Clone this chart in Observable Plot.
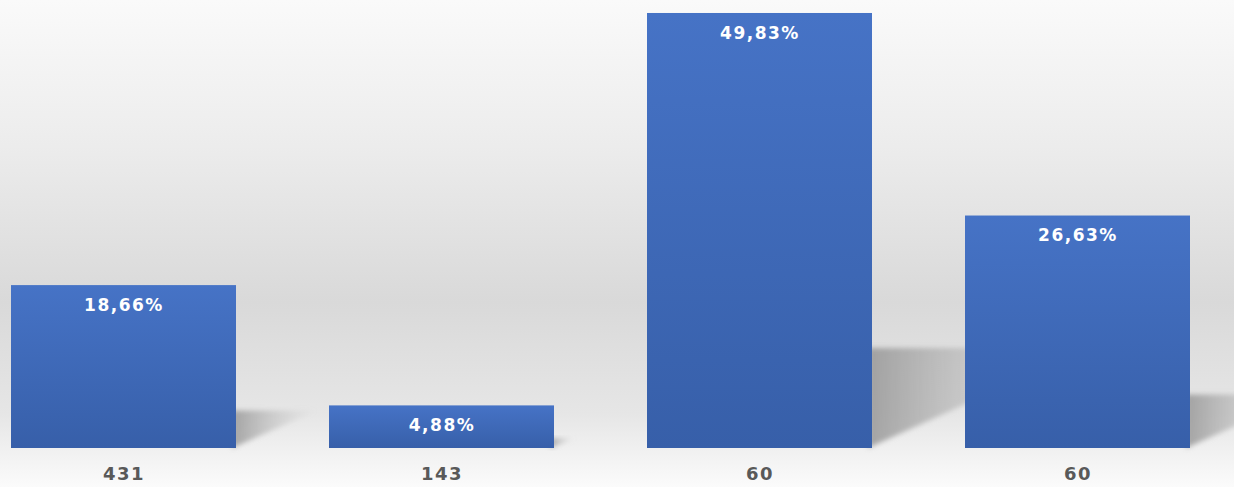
<!DOCTYPE html>
<html><head><meta charset="utf-8">
<script src="https://cdn.jsdelivr.net/npm/d3@7"></script>
<script src="https://cdn.jsdelivr.net/npm/@observablehq/plot@0.6"></script>
<style>
body{margin:0;background:#fff}
#chart svg text{font-family:"DejaVu Sans",Verdana,sans-serif;letter-spacing:1.5px}
</style>
</head><body><div id="chart"></div>
<script>
const ids = ["c1", "c2", "c3", "c4"];
const tickLabels = ["431", "143", "60", "60"];
const values = [18.66, 4.88, 49.83, 26.63];
const valueLabels = ["18,66%", "4,88%", "49,83%", "26,63%"];

const data = ids.map((id, i) => ({id, value: values[i], text: valueLabels[i]}));
const tickMap = new Map(ids.map((id, i) => [id, tickLabels[i]]));

function defsMark() {
  const defs = d3.create("svg:defs");
  const bg = defs.append("linearGradient").attr("id", "barGrad").attr("x1", 0).attr("y1", 0).attr("x2", 0).attr("y2", 1);
  bg.append("stop").attr("offset", "0%").attr("stop-color", "#4673c6");
  bg.append("stop").attr("offset", "100%").attr("stop-color", "#375fa9");
  const sg = defs.append("linearGradient").attr("id", "shGrad").attr("x1", 0).attr("y1", 0).attr("x2", 1).attr("y2", 0);
  sg.append("stop").attr("offset", "0%").attr("stop-color", "#909090").attr("stop-opacity", 0.8);
  sg.append("stop").attr("offset", "100%").attr("stop-color", "#c0c0c0").attr("stop-opacity", 0);
  const f = defs.append("filter").attr("id", "shBlur").attr("x", "-30%").attr("y", "-30%").attr("width", "160%").attr("height", "160%");
  f.append("feGaussianBlur").attr("stdDeviation", 2.5);
  return defs.node();
}

function shadowMark(index, scales) {
  const {x, y} = scales;
  const g = d3.create("svg:g");
  const bw = x.bandwidth();
  const yb = y(0);
  for (const d of data) {
    const x1 = x(d.id) + bw;
    const h = yb - y(d.value);
    const dx = 0.5 * h, dy = 0.23 * h;
    g.append("path")
      .attr("d", `M${x1 - 4},${yb}L${x1 - 4},${yb - dy}L${x1 + dx},${yb - dy}Z`)
      .attr("fill", "url(#shGrad)")
      .attr("filter", "url(#shBlur)");
  }
  return g.node();
}

const chart = Plot.plot({
  width: 1234,
  height: 487,
  marginLeft: 10,
  marginRight: 44,
  marginTop: 11.5,
  marginBottom: 39,
  style: {background: "linear-gradient(to bottom, #fafafa 0%, #ececec 30%, #d9d9d9 62%, #e6e6e6 85%, #fbfbfb 100%)"},
  x: {domain: ids, paddingInner: 0.293, paddingOuter: 0, label: null},
  y: {domain: [0, 50], axis: null},
  marks: [
    defsMark,
    shadowMark,
    Plot.barY(data, {x: "id", y: "value", fill: "url(#barGrad)"}),
    Plot.text(data, {x: "id", y: "value", text: "text", dy: 20, fill: "white", fontWeight: "bold", fontSize: 17}),
    Plot.axisX({tickSize: 0, tickPadding: 19, tickFormat: d => tickMap.get(d), fontSize: 18, fontWeight: "bold", fill: "#595959", label: null})
  ]
});
document.getElementById("chart").appendChild(chart);
</script>
</body></html>
